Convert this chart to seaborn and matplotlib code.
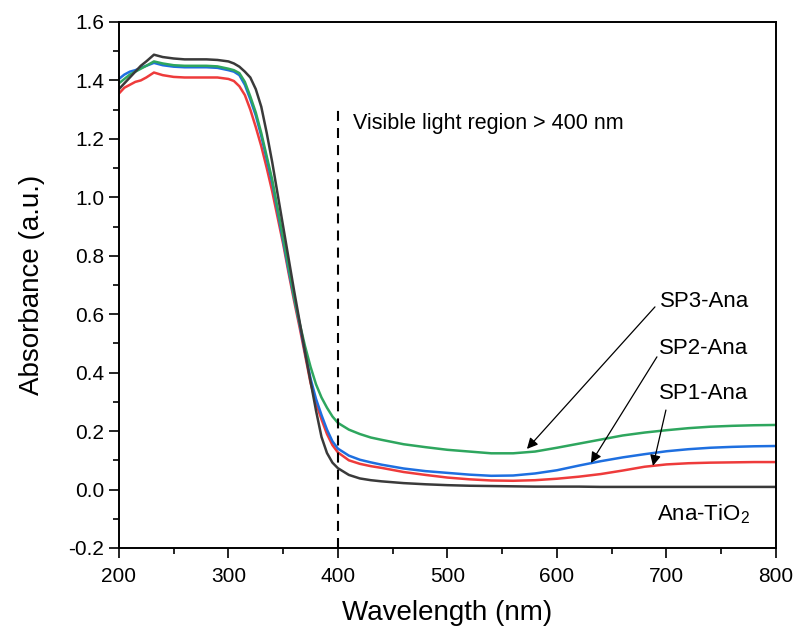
import matplotlib
matplotlib.use("Agg")
import matplotlib.pyplot as plt
import seaborn as sns
import pandas as pd

# UV-Vis absorbance spectra
wavelength = [200, 205, 210, 215, 220, 225, 232, 240, 250, 260, 270, 280, 290, 300,
              305, 310, 315, 320, 325, 330, 335, 340, 345, 350, 355, 360, 365, 370,
              375, 380, 385, 390, 395, 400, 410, 420, 430, 440, 460, 480, 500, 520,
              540, 560, 580, 600, 620, 640, 660, 680, 700, 720, 740, 760, 780, 800]

ana_tio2 = [1.37, 1.39, 1.41, 1.43, 1.45, 1.465, 1.488, 1.48, 1.475, 1.472, 1.472, 1.472, 1.47, 1.465,
            1.458, 1.447, 1.43, 1.41, 1.37, 1.31, 1.22, 1.12, 1.01, 0.90, 0.79, 0.68, 0.575, 0.47,
            0.37, 0.27, 0.18, 0.125, 0.092, 0.073, 0.05, 0.038, 0.032, 0.028, 0.022, 0.018, 0.015, 0.013,
            0.012, 0.011, 0.010, 0.010, 0.010, 0.009, 0.009, 0.009, 0.009, 0.009, 0.009, 0.009, 0.009, 0.009]

sp1_ana = [1.355, 1.375, 1.385, 1.395, 1.40, 1.41, 1.427, 1.418, 1.412, 1.41, 1.41, 1.41, 1.41, 1.405,
           1.398, 1.38, 1.35, 1.30, 1.24, 1.175, 1.10, 1.02, 0.93, 0.84, 0.74, 0.645, 0.555, 0.46,
           0.365, 0.295, 0.24, 0.19, 0.152, 0.127, 0.10, 0.088, 0.08, 0.074, 0.06, 0.05, 0.041, 0.035,
           0.031, 0.03, 0.032, 0.037, 0.044, 0.053, 0.065, 0.078, 0.086, 0.09, 0.092, 0.093, 0.094, 0.094]

sp2_ana = [1.405, 1.42, 1.43, 1.435, 1.443, 1.45, 1.46, 1.452, 1.447, 1.445, 1.445, 1.445, 1.443, 1.435,
           1.43, 1.418, 1.385, 1.335, 1.28, 1.21, 1.13, 1.05, 0.95, 0.85, 0.75, 0.655, 0.565, 0.47,
           0.38, 0.31, 0.255, 0.205, 0.165, 0.14, 0.116, 0.102, 0.093, 0.085, 0.072, 0.063, 0.057, 0.051,
           0.047, 0.048, 0.055, 0.066, 0.082, 0.097, 0.11, 0.121, 0.131, 0.138, 0.143, 0.146, 0.148, 0.149]

sp3_ana = [1.39, 1.405, 1.42, 1.43, 1.44, 1.45, 1.465, 1.458, 1.452, 1.45, 1.45, 1.45, 1.448, 1.44,
           1.435, 1.425, 1.395, 1.345, 1.29, 1.22, 1.14, 1.06, 0.96, 0.86, 0.76, 0.66, 0.57, 0.49,
           0.42, 0.36, 0.315, 0.28, 0.25, 0.228, 0.205, 0.19, 0.178, 0.17, 0.155, 0.145, 0.136, 0.13,
           0.124, 0.124, 0.13, 0.143, 0.157, 0.171, 0.185, 0.195, 0.203, 0.21, 0.215, 0.218, 0.22, 0.221]

series_names = ["SP1-Ana", "SP2-Ana", "SP3-Ana", "Ana-TiO$_2$"]
series_values = [sp1_ana, sp2_ana, sp3_ana, ana_tio2]
series_colors = ["#EE3B3B", "#1E6FE0", "#2EA65E", "#3A3A3A"]

y_ticks = [-0.2, 0.0, 0.2, 0.4, 0.6, 0.8, 1.0, 1.2, 1.4, 1.6]
y_tick_labels = ["-0.2", "0.0", "0.2", "0.4", "0.6", "0.8", "1.0", "1.2", "1.4", "1.6"]
x_ticks = [200, 300, 400, 500, 600, 700, 800]

frames = []
for name, vals in zip(series_names, series_values):
    frames.append(pd.DataFrame({"Wavelength": wavelength, "Absorbance": vals, "Sample": name}))
df = pd.concat(frames, ignore_index=True)

sns.set_style("ticks")
plt.rcParams["font.family"] = ["Liberation Sans", "DejaVu Sans"]
plt.rcParams["mathtext.fontset"] = "custom"
plt.rcParams["mathtext.rm"] = "Liberation Sans"
plt.rcParams["mathtext.it"] = "Liberation Sans:italic"
plt.rcParams["text.color"] = "black"
plt.rcParams["axes.labelcolor"] = "black"

fig = plt.figure(figsize=(7.98, 6.33), dpi=100)
ax = fig.add_axes([0.149, 0.1343, 0.8234, 0.8310])

sns.lineplot(data=df, x="Wavelength", y="Absorbance", hue="Sample",
             hue_order=series_names, palette=series_colors, linewidth=1.8,
             legend=False, ax=ax, estimator=None, sort=True)

ax.set_xlim(200, 800)
ax.set_ylim(-0.2, 1.6)
ax.set_xticks(x_ticks)
ax.set_xticklabels([str(t) for t in x_ticks])
ax.set_yticks(y_ticks)
ax.set_yticklabels(y_tick_labels)
ax.set_xticks([250, 350, 450, 550, 650, 750], minor=True)
ax.set_yticks([-0.1, 0.1, 0.3, 0.5, 0.7, 0.9, 1.1, 1.3, 1.5], minor=True)
ax.tick_params(axis="both", which="major", direction="out", length=7, width=1.2,
               labelsize=15, color="black", labelcolor="black")
ax.tick_params(axis="x", which="major", pad=7)
ax.tick_params(axis="both", which="minor", direction="out", length=4.3, width=1.2, color="black")
ax.tick_params(top=False, right=False, which="both")

for side in ["left", "right", "top", "bottom"]:
    ax.spines[side].set_visible(True)
    ax.spines[side].set_color("black")
    ax.spines[side].set_linewidth(1.4)

ax.set_xlabel("Wavelength (nm)", fontsize=20, labelpad=10, color="black")
ax.set_ylabel("Absorbance (a.u.)", fontsize=20, labelpad=17, color="black")

# Visible-light boundary
ax.plot([400, 400], [-0.2, 1.31], color="black", linewidth=1.5,
        linestyle=(0, (4.8, 3.4)))
ax.text(414, 1.254, "Visible light region > 400 nm", fontsize=15.5,
        va="center", ha="left", color="black")

# Sample labels with arrows
label_pos = {"SP3-Ana": (694, 0.642), "SP2-Ana": (693, 0.484), "SP1-Ana": (693, 0.330)}
arrows = {"SP3-Ana": ((689.5, 0.625), (572.6, 0.139)),
          "SP2-Ana": ((691.3, 0.454), (631.0, 0.091)),
          "SP1-Ana": ((699.5, 0.272), (687.7, 0.081))}
for name, (tx, ty) in label_pos.items():
    ax.text(tx, ty, name, fontsize=16, va="center", ha="left", color="black")
    tail, head = arrows[name]
    ax.annotate("", xy=head, xytext=tail,
                arrowprops=dict(arrowstyle="-|>", color="black", lw=0.9,
                                mutation_scale=16, shrinkA=0, shrinkB=0))
ax.text(691, -0.085, "Ana-TiO$_2$", fontsize=16, va="center", ha="left", color="black")

fig.savefig("out.png", dpi=100)
